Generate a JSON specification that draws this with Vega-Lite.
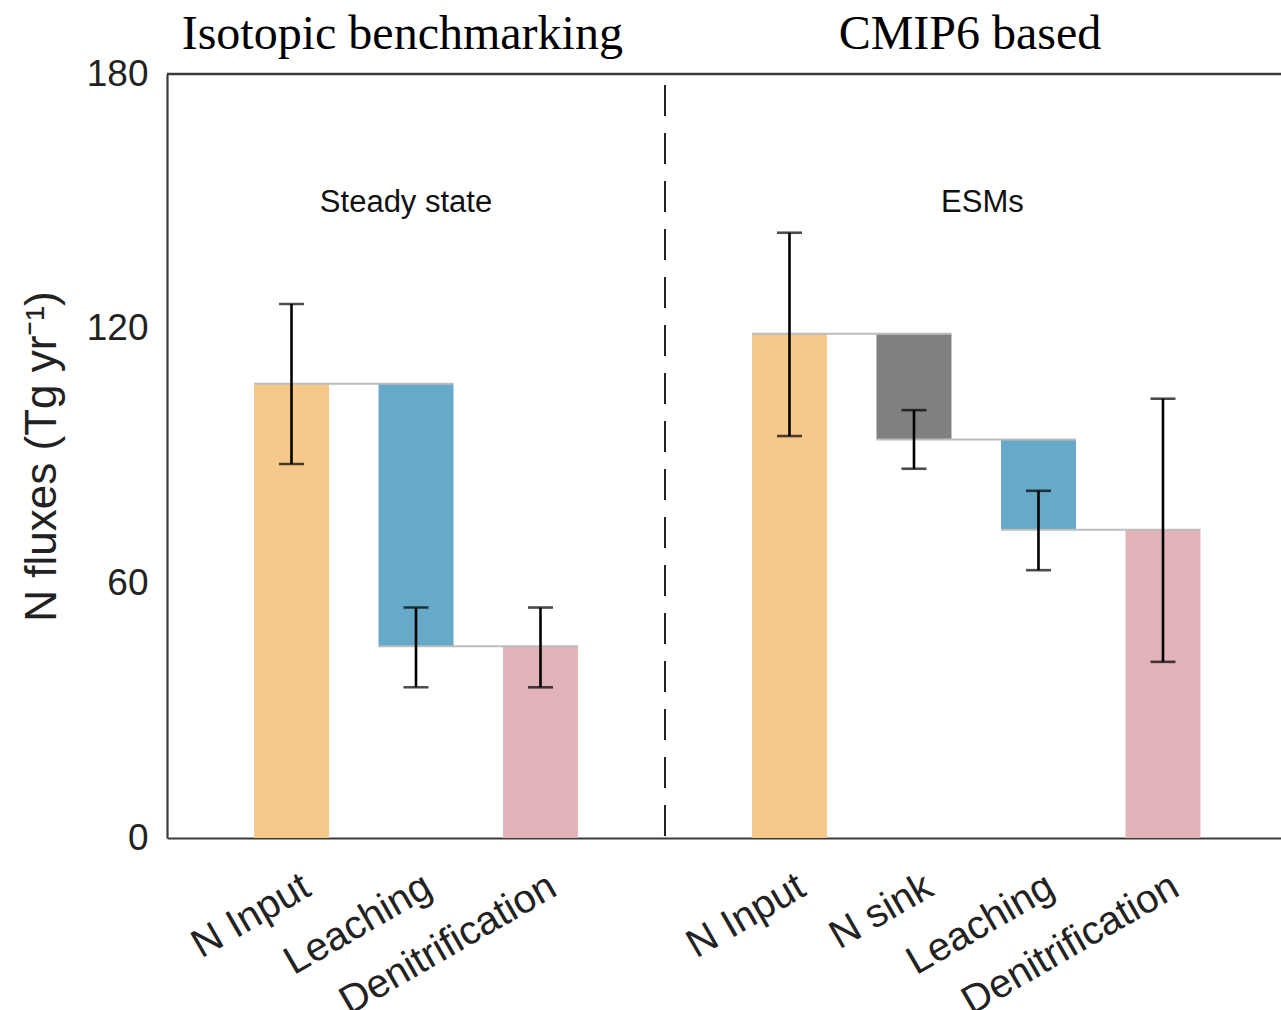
{
  "$schema": "https://vega.github.io/schema/vega-lite/v6.json",
  "autosize": {"type": "none"},
  "padding": {"left": 167, "top": 74, "right": 0, "bottom": 172},
  "width": 1114,
  "height": 764,
  "background": "white",
  "config": {"font": "Liberation Sans", "view": {"stroke": null}},
  "datasets": {
    "fluxes": [
      {"panel": "Steady state", "pos": 1, "flux": "N Input", "kind": "input", "lo": 0, "hi": 107.0, "err_lo": 88.1, "err_hi": 125.8},
      {"panel": "Steady state", "pos": 2, "flux": "Leaching", "kind": "leaching", "lo": 45.2, "hi": 107.0, "err_lo": 35.5, "err_hi": 54.3},
      {"panel": "Steady state", "pos": 3, "flux": "Denitrification", "kind": "denit", "lo": 0, "hi": 45.2, "err_lo": 35.5, "err_hi": 54.3},
      {"panel": "ESMs", "pos": 5, "flux": "N Input", "kind": "input", "lo": 0, "hi": 118.8, "err_lo": 94.7, "err_hi": 142.6},
      {"panel": "ESMs", "pos": 6, "flux": "N sink", "kind": "sink", "lo": 93.9, "hi": 118.8, "err_lo": 87.0, "err_hi": 100.8},
      {"panel": "ESMs", "pos": 7, "flux": "Leaching", "kind": "leaching", "lo": 72.6, "hi": 93.9, "err_lo": 63.1, "err_hi": 81.8},
      {"panel": "ESMs", "pos": 8, "flux": "Denitrification", "kind": "denit", "lo": 0, "hi": 72.6, "err_lo": 41.5, "err_hi": 103.5}
    ],
    "links": [
      {"from": 1, "to": 2, "level": 107.0},
      {"from": 2, "to": 3, "level": 45.2},
      {"from": 5, "to": 6, "level": 118.8},
      {"from": 6, "to": 7, "level": 93.9},
      {"from": 7, "to": 8, "level": 72.6}
    ]
  },
  "layer": [
    {
      "data": {"name": "fluxes"},
      "mark": {"type": "bar", "width": 75},
      "encoding": {
        "x": {
          "field": "pos", "type": "quantitative",
          "scale": {"domain": [0, 8.948], "nice": false, "zero": false, "padding": 0},
          "axis": {
            "title": null,
            "values": [1, 2, 3, 5, 6, 7, 8],
            "labelExpr": "['', 'N Input', 'Leaching', 'Denitrification', '', 'N Input', 'N sink', 'Leaching', 'Denitrification'][datum.value]",
            "labelAngle": -30,
            "labelAlign": "right",
            "labelBaseline": "top",
            "labelFontSize": 40,
            "labelColor": "#222222",
            "labelPadding": 28,
            "labelLimit": 0,
            "labelOffset": {"condition": [
              {"test": "datum.value == 1", "value": 5},
              {"test": "datum.value == 6", "value": 5}
            ], "value": 2},
            "ticks": false,
            "tickSize": 0,
            "grid": false,
            "domainColor": "#3a3a3a",
            "domainWidth": 2.2,
            "labelOverlap": false
          }
        },
        "y": {
          "field": "hi", "type": "quantitative",
          "scale": {"domain": [0, 180], "nice": false},
          "axis": {
            "title": "N fluxes (Tg yr⁻¹)",
            "titleFontSize": 44,
            "titleFontWeight": "normal",
            "titleColor": "#222222",
            "titlePadding": 22,
            "values": [0, 60, 120, 180],
            "labelFontSize": 37,
            "labelColor": "#222222",
            "labelPadding": 19,
            "ticks": false,
            "tickSize": 0,
            "grid": false,
            "domainColor": "#3a3a3a",
            "domainWidth": 2.2
          }
        },
        "y2": {"field": "lo"},
        "color": {
          "field": "kind", "type": "nominal",
          "scale": {"domain": ["input", "leaching", "sink", "denit"], "range": ["#F6C98A", "#66A9C9", "#808080", "#E2B3B8"]},
          "legend": null
        }
      }
    },
    {
      "data": {"name": "links"},
      "mark": {"type": "rule", "color": "#BDBDBD", "strokeWidth": 2, "xOffset": -37.5, "x2Offset": 37.5},
      "encoding": {
        "x": {"field": "from", "type": "quantitative"},
        "x2": {"field": "to"},
        "y": {"field": "level", "type": "quantitative"}
      }
    },
    {
      "data": {"name": "fluxes"},
      "mark": {"type": "rule", "color": "#000000", "strokeWidth": 2.6},
      "encoding": {
        "x": {"field": "pos", "type": "quantitative"},
        "y": {"field": "err_lo", "type": "quantitative"},
        "y2": {"field": "err_hi"}
      }
    },
    {
      "data": {"name": "fluxes"},
      "mark": {"type": "tick", "orient": "horizontal", "color": "#000000", "size": 25, "thickness": 2.6},
      "encoding": {
        "x": {"field": "pos", "type": "quantitative"},
        "y": {"field": "err_lo", "type": "quantitative"}
      }
    },
    {
      "data": {"name": "fluxes"},
      "mark": {"type": "tick", "orient": "horizontal", "color": "#000000", "size": 25, "thickness": 2.6},
      "encoding": {
        "x": {"field": "pos", "type": "quantitative"},
        "y": {"field": "err_hi", "type": "quantitative"}
      }
    },
    {
      "data": {"values": [{}]},
      "mark": {"type": "rule", "color": "#3a3a3a", "strokeWidth": 2.4},
      "encoding": {"y": {"datum": 180}}
    },
    {
      "data": {"values": [{}]},
      "mark": {"type": "rule", "color": "#222222", "strokeWidth": 2, "strokeDash": [31, 17], "strokeDashOffset": 37},
      "encoding": {"x": {"datum": 4}}
    },
    {
      "data": {"values": [{}]},
      "mark": {"type": "text", "font": "Liberation Sans", "fontSize": 31, "color": "#111111", "baseline": "middle", "align": "center"},
      "encoding": {"x": {"datum": 1.92}, "y": {"datum": 149.6}, "text": {"value": "Steady state"}}
    },
    {
      "data": {"values": [{}]},
      "mark": {"type": "text", "font": "Liberation Sans", "fontSize": 31, "color": "#111111", "baseline": "middle", "align": "center"},
      "encoding": {"x": {"datum": 6.55}, "y": {"datum": 149.6}, "text": {"value": "ESMs"}}
    },
    {
      "data": {"values": [{}]},
      "mark": {"type": "text", "font": "Liberation Serif", "fontSize": 48, "color": "#000000", "baseline": "alphabetic", "align": "center"},
      "encoding": {"x": {"datum": 1.89}, "y": {"datum": 186}, "text": {"value": "Isotopic benchmarking"}}
    },
    {
      "data": {"values": [{}]},
      "mark": {"type": "text", "font": "Liberation Serif", "fontSize": 48, "color": "#000000", "baseline": "alphabetic", "align": "center"},
      "encoding": {"x": {"datum": 6.45}, "y": {"datum": 186}, "text": {"value": "CMIP6 based"}}
    }
  ]
}
